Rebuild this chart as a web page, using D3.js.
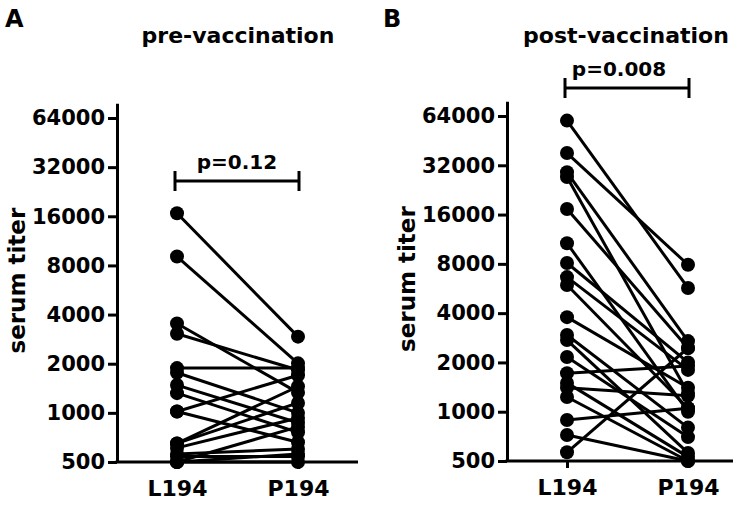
<!DOCTYPE html>
<html>
<head>
<meta charset="utf-8">
<script src="https://cdn.jsdelivr.net/npm/d3@7"></script>
<style>
  html, body { margin: 0; padding: 0; background: #fff; }
  svg { display: block; }
  text { font-family: "DejaVu Sans", sans-serif; font-weight: bold; fill: #000; }
</style>
</head>
<body>
<svg id="chart" width="748" height="505"></svg>
<script>
// ---------------- data ----------------
const categories = ["L194", "P194"];
const yTicks = [500, 1000, 2000, 4000, 8000, 16000, 32000, 64000];
const panelLetters = ["A", "B"];
const panelTitles = ["pre-vaccination", "post-vaccination"];
const pValues = ["p=0.12", "p=0.008"];

// pre-vaccination: paired titers (L194 -> P194)
const preL194 = [16700, 9070, 3530, 3050, 1880, 1760, 1480, 1320, 1020, 1020, 650, 650, 610, 560, 540, 500, 500, 500];
const preP194 = [2930, 2010, 1330, 1830, 1880, 1000, 870, 760, 1700, 660, 1450, 1150, 930, 600, 540, 820, 500, 560];

// post-vaccination: paired titers (L194 -> P194)
const postL194 = [60000, 38000, 29000, 27100, 17300, 10700, 8100, 6640, 5940, 3780, 2940, 2740, 2160, 1720, 1400, 1230, 890, 720, 565, 1500];
const postP194 = [5700, 7900, 2700, 1300, 2450, 1000, 2000, 1800, 1050, 1400, 800, 560, 700, 1900, 1250, 500, 1050, 500, 2450, 530];

// ---------------- layout ----------------
const panels = [
  { axisX: 117, xEnd: 358, catX: [177, 298], yBottom: 462, y64k: 118, L: preL194, P: preP194,
    letterX: 5, titleX: 238, pX: 237, pY: 169, bracketY: 181 },
  { axisX: 507, xEnd: 733, catX: [567, 688], yBottom: 461, y64k: 116, L: postL194, P: postP194,
    letterX: 383, titleX: 626, pX: 619, pY: 76, bracketY: 88 }
];

const svg = d3.select("#chart");

panels.forEach((p, i) => {
  const g = svg.append("g");
  const step = (p.yBottom - p.y64k) / 7;
  const yTop = p.yBottom - 7.3 * step;
  const y = d3.scaleLog().base(2).domain([500, 500 * Math.pow(2, 7.3)]).range([p.yBottom, yTop]);
  const x = d3.scalePoint().domain(categories).range(p.catX);

  // y axis
  const yAxis = d3.axisLeft(y).tickValues(yTicks).tickFormat(d3.format("d")).tickSize(9).tickSizeOuter(0).tickPadding(3);
  const ya = g.append("g").attr("transform", `translate(${p.axisX},0)`).call(yAxis);
  ya.select(".domain").attr("stroke", "#000").attr("stroke-width", 3);
  ya.selectAll(".tick line").attr("stroke", "#000").attr("stroke-width", 3);
  ya.selectAll(".tick text").style("font-size", "21px").attr("fill", "#000");

  // x axis
  const xAxis = d3.axisBottom(x).tickSize(7).tickSizeOuter(0).tickPadding(11);
  const xa = g.append("g").attr("transform", `translate(0,${p.yBottom})`).call(xAxis);
  xa.select(".domain").remove();
  xa.append("line").attr("x1", p.axisX - 1.5).attr("x2", p.xEnd).attr("y1", 0).attr("y2", 0)
    .attr("stroke", "#000").attr("stroke-width", 3);
  xa.selectAll(".tick line").attr("stroke", "#000").attr("stroke-width", 3);
  xa.selectAll(".tick text").style("font-size", "22px").attr("fill", "#000");

  // y axis title
  g.append("text")
    .attr("transform", `translate(${p.axisX - 92},${(p.yBottom + yTop) / 2 - 2}) rotate(-90)`)
    .attr("text-anchor", "middle")
    .style("font-size", "23px")
    .text("serum titer");

  // panel letter & title
  g.append("text").attr("x", p.letterX).attr("y", 27).style("font-size", "24px").text(panelLetters[i]);
  g.append("text").attr("x", p.titleX).attr("y", 43).attr("text-anchor", "middle").style("font-size", "22px").text(panelTitles[i]);

  // significance bracket
  const bx1 = x(categories[0]) - 2, bx2 = x(categories[1]) + 1;
  const br = g.append("g").attr("stroke", "#000").attr("stroke-width", 3);
  br.append("line").attr("x1", bx1).attr("x2", bx2).attr("y1", p.bracketY).attr("y2", p.bracketY);
  br.append("line").attr("x1", bx1).attr("x2", bx1).attr("y1", p.bracketY - 10).attr("y2", p.bracketY + 10);
  br.append("line").attr("x1", bx2).attr("x2", bx2).attr("y1", p.bracketY - 10).attr("y2", p.bracketY + 10);
  g.append("text").attr("x", p.pX).attr("y", p.pY).attr("text-anchor", "middle").style("font-size", "20px").text(pValues[i]);

  // paired lines
  const pairs = p.L.map((v, k) => ({ a: v, b: p.P[k] }));
  g.append("g").selectAll("line").data(pairs).join("line")
    .attr("x1", x(categories[0])).attr("x2", x(categories[1]))
    .attr("y1", d => y(d.a)).attr("y2", d => y(d.b))
    .attr("stroke", "#000").attr("stroke-width", 3);

  // points
  const pts = [];
  pairs.forEach(d => { pts.push({ c: categories[0], v: d.a }); pts.push({ c: categories[1], v: d.b }); });
  g.append("g").selectAll("circle").data(pts).join("circle")
    .attr("cx", d => x(d.c)).attr("cy", d => y(d.v)).attr("r", 7).attr("fill", "#000");
});
</script>
</body>
</html>
